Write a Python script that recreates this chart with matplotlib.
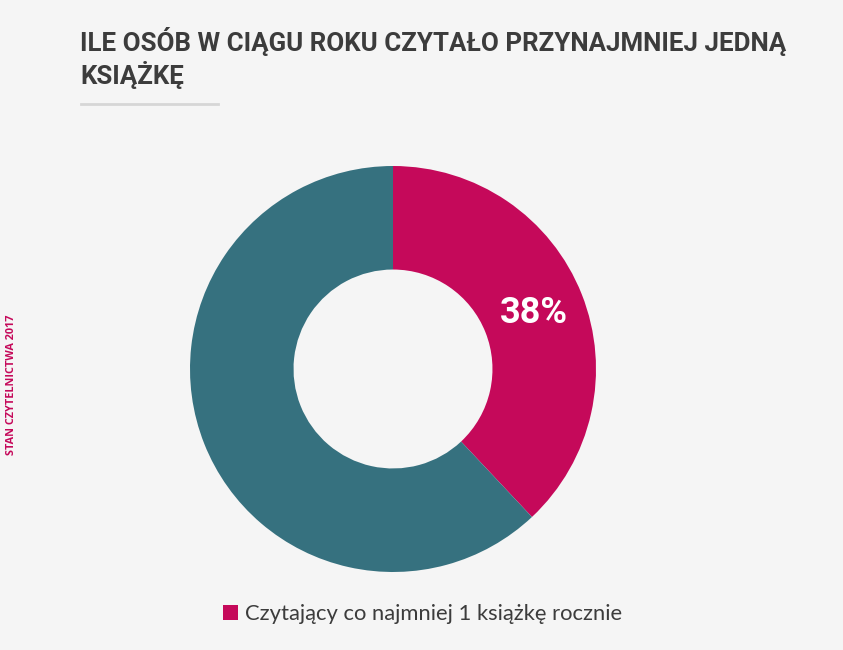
import matplotlib
matplotlib.use('Agg')
import matplotlib.pyplot as plt

labels = ['Czytający co najmniej 1 książkę rocznie', 'Pozostali']
values = [38, 62]
colors = ['#c5095a', '#36717f']
title = 'ILE OSÓB W CIĄGU ROKU CZYTAŁO PRZYNAJMNIEJ JEDNĄ\nKSIĄŻKĘ'
side_note = 'STAN CZYTELNICTWA 2017'

W, H = 843, 650
bg = '#f5f5f5'

fig = plt.figure(figsize=(W / 100, H / 100), dpi=100, facecolor=bg)

# donut: centre (393, 369) px, outer radius 203 px
cx, cy, r = 393, 369, 203
ax = fig.add_axes([(cx - r) / W, (H - cy - r) / H, 2 * r / W, 2 * r / H])
ax.set_facecolor(bg)
wedges, texts, autotexts = ax.pie(
    values, colors=colors, startangle=90, counterclock=False,
    radius=1, wedgeprops={'width': 0.51, 'linewidth': 0},
    autopct=lambda p: '{:.0f}%'.format(p) if p < 50 else '',
    pctdistance=0.745,
    textprops={'color': 'white', 'fontsize': 26, 'fontweight': 'bold',
               'family': 'Roboto'})
ax.set_xlim(-1, 1)
ax.set_ylim(-1, 1)
ax.set_aspect('equal')
ax.axis('off')

# baseline of the last title line
fig.text(80 / W, 1 - 84 / H, title, ha='left', va='baseline', fontsize=18.6,
         fontweight='bold', family='Roboto', color='#3c3c3c',
         linespacing=1.22)
fig.add_artist(plt.Line2D([81 / W, 218 / W], [1 - 104 / H, 1 - 104 / H],
                          color='#d6d6d6', linewidth=2))

fig.text(12 / W, 1 - 385 / H, side_note, rotation=90, ha='center',
         va='center', fontsize=7.8, fontweight='bold', family='Open Sans',
         color='#c5095a')

fig.legend([wedges[0]], [labels[0]], loc='center left',
           bbox_to_anchor=(203 / W, 1 - 614 / H), frameon=False,
           prop={'family': 'Lato', 'size': 15.8}, labelcolor='#3c3c3c',
           handlelength=0.7, handleheight=0.7, handletextpad=0.3)

fig.savefig('out.png', dpi=100, facecolor=bg)
